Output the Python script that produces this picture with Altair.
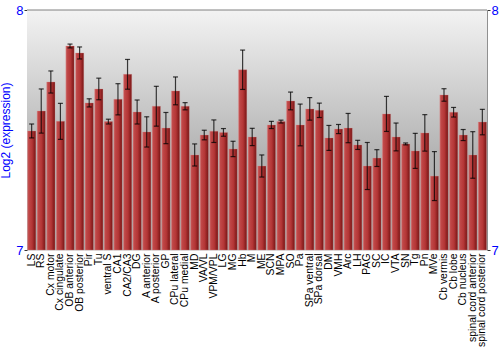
import altair as alt
import pandas as pd

regions = ["LS", "RS", "Cx motor", "Cx cingulate", "OB anterior", "OB posterior", "Pir", "Tu",
           "ventral S", "CA1", "CA2/CA3", "DG", "A anterior", "A posterior", "GP", "CPu lateral",
           "CPu medial", "MD", "VA/VL", "VPM/VPL", "LG", "MG", "Hb", "M", "ME", "SCN", "MPA", "SO",
           "Pa", "SPa ventral", "SPa dorsal", "DM", "VMH", "Arc", "LH", "PAG", "SC", "IC", "VTA",
           "SN", "Tg", "Pn", "MVe", "Cb vermis", "Cb lobe", "Cb nucleus", "spinal cord anterior",
           "spinal cord posterior"]
values = [7.496, 7.579, 7.700, 7.536, 7.850, 7.821, 7.613, 7.671,
          7.535, 7.628, 7.732, 7.575, 7.492, 7.599, 7.508, 7.663,
          7.599, 7.396, 7.479, 7.495, 7.490, 7.421, 7.751, 7.471, 7.350, 7.521, 7.535, 7.621,
          7.521, 7.588, 7.582, 7.467, 7.504, 7.508, 7.438, 7.350, 7.383, 7.567, 7.471,
          7.442, 7.413, 7.488, 7.308, 7.646, 7.574, 7.479, 7.396,
          7.533]
errors = [0.029, 0.092, 0.046, 0.075, 0.008, 0.025, 0.017, 0.045,
          0.010, 0.065, 0.062, 0.050, 0.063, 0.083, 0.065, 0.058,
          0.015, 0.046, 0.020, 0.047, 0.016, 0.032, 0.082, 0.036, 0.046, 0.015, 0.006, 0.037,
          0.087, 0.047, 0.030, 0.052, 0.019, 0.061, 0.019, 0.098, 0.035, 0.073, 0.058,
          0.004, 0.073, 0.076, 0.102, 0.026, 0.020, 0.023, 0.097,
          0.053]

df = pd.DataFrame({"region": regions, "value": values, "err": errors})
df["lo"] = df["value"] - df["err"]
df["hi"] = df["value"] + df["err"]

W, H = 460, 240
BLUE = "#0000ff"

xenc = alt.X("region:N", sort=regions,
             scale=alt.Scale(paddingInner=0.13, paddingOuter=0.05),
             axis=alt.Axis(title=None, labelAngle=-90, labelFontSize=10.4, labelColor="black",
                           labelFont="Liberation Sans", domain=False, ticks=False,
                           labelPadding=3, labelBaseline="middle", labelAlign="right"))
yscale = alt.Scale(domain=[7, 8], zero=False, nice=False)

bg = alt.Chart(pd.DataFrame({"a": [0]})).mark_rect(
    color=alt.Gradient(gradient="linear",
                       stops=[alt.GradientStop(offset=0, color="#f3f3f3"),
                              alt.GradientStop(offset=0.6, color="#b3b3b3"),
                              alt.GradientStop(offset=1, color="#a8a8a8")],
                       x1=0, x2=0, y1=0, y2=1)
).encode(x=alt.value(0), x2=alt.value(W), y=alt.value(0), y2=alt.value(H))

bars = alt.Chart(df).mark_bar(
    color=alt.Gradient(gradient="linear",
                       stops=[alt.GradientStop(offset=0, color="#cf6a6a"),
                              alt.GradientStop(offset=0.15, color="#c04848"),
                              alt.GradientStop(offset=0.55, color="#b43636"),
                              alt.GradientStop(offset=1, color="#761414")],
                       x1=0, x2=1, y1=0, y2=0),
    stroke="#d89090", strokeWidth=0.5, strokeOpacity=0.6
).encode(
    x=xenc,
    y=alt.Y("value:Q", scale=yscale,
            axis=alt.Axis(title="Log2 (expression)", titleColor=BLUE, titleFontSize=12,
                          titleFont="Liberation Sans", titleFontWeight="normal",
                          values=[7, 8], format="d", labelColor=BLUE, labelFontSize=13,
                          labelFont="Liberation Sans", domainColor="#808080",
                          tickColor="#333333", tickSize=3, grid=False, titlePadding=3,
                          labelPadding=1)),
    y2=alt.datum(7)
)

rules = alt.Chart(df).mark_rule(color="black", opacity=0.75, strokeWidth=1.2).encode(
    x=alt.X("region:N", sort=regions), y=alt.Y("lo:Q", scale=yscale), y2="hi:Q")
cap_lo = alt.Chart(df).mark_tick(color="black", opacity=0.75, size=5, thickness=1.2, orient="horizontal").encode(
    x=alt.X("region:N", sort=regions), y=alt.Y("lo:Q", scale=yscale))
cap_hi = alt.Chart(df).mark_tick(color="black", opacity=0.75, size=5, thickness=1.2, orient="horizontal").encode(
    x=alt.X("region:N", sort=regions), y=alt.Y("hi:Q", scale=yscale))

top_line = alt.Chart(pd.DataFrame({"a": [0]})).mark_rule(color="#808080").encode(
    x=alt.value(0), x2=alt.value(W), y=alt.value(0))

main = alt.layer(bg, bars, rules, cap_lo, cap_hi, top_line)

right_axis = alt.Chart(df).mark_point(opacity=0).encode(
    x=alt.X("region:N", sort=regions),
    y=alt.Y("value:Q", scale=yscale,
            axis=alt.Axis(orient="right", title=None, values=[7, 8], format="d",
                          labelColor=BLUE, labelFontSize=13, labelFont="Liberation Sans",
                          domainColor="#909090", tickColor="#333333", tickSize=3,
                          grid=False, labelPadding=1)))

chart = alt.layer(main, right_axis).resolve_scale(
    y="independent"
).properties(
    width=W, height=H,
    autosize=alt.AutoSizeParams(type="none"),
    padding={"left": 27, "top": 10, "right": 13, "bottom": 100}
).configure_view(stroke=None).configure(background="white")

chart.save("out.html", embed_options={"renderer": "svg", "actions": False})
